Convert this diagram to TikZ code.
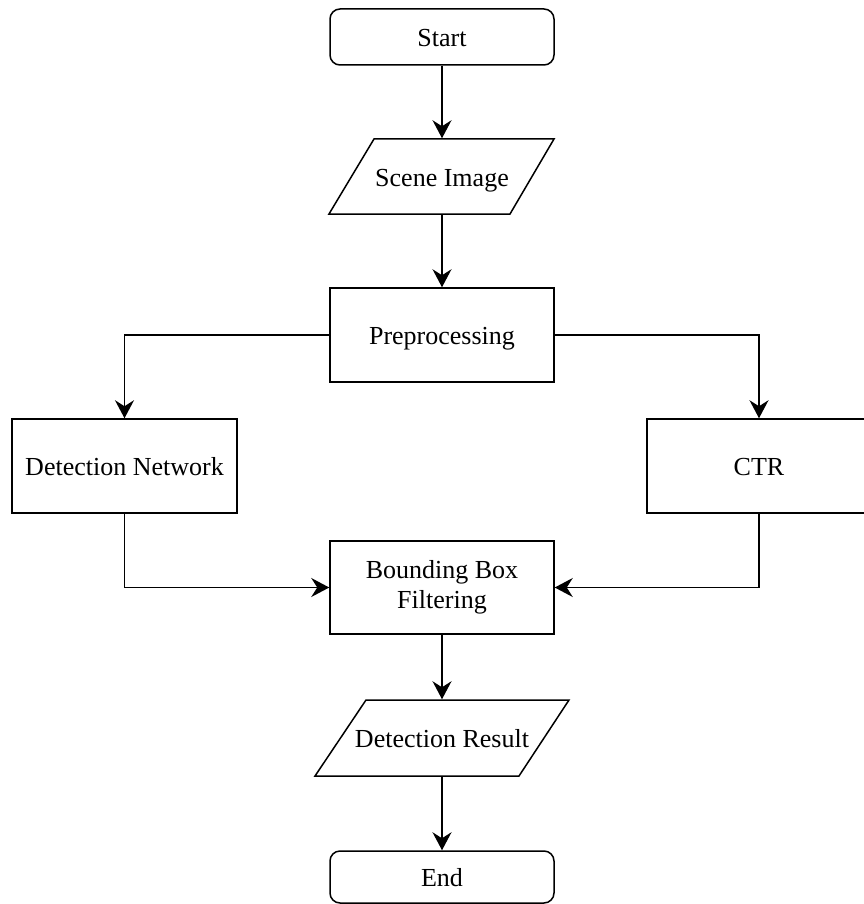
\documentclass[tikz,border=0pt]{standalone}
\usepackage{fontspec}
\setmainfont{Liberation Serif}
\usetikzlibrary{arrows.meta,calc}
\begin{document}
\begin{tikzpicture}[x=1pt,y=-1pt,line width=1.5pt,
  lbl/.style={font=\fontsize{26}{30}\selectfont, align=center, inner sep=0pt},
  fixline/.style={text height=19pt, text depth=0pt},
  procbox/.style={lbl, draw, minimum width=224pt, minimum height=94pt},
  termbox/.style={lbl, fixline, draw, rounded corners=10pt, minimum width=224pt, minimum height=56pt},
  iobox/.style={lbl, fixline, minimum height=75pt, minimum width=160pt},
  arr/.style={-{Stealth[length=18pt,width=19pt,inset=6pt]}}]
\useasboundingbox (0,0) rectangle (863,904);
\node[termbox] (start) at (442,37) {Start};
\node[iobox] (scene) at (442,176.5) {Scene Image};
\draw ($(scene.center)+(-113,37.5)$) -- ($(scene.center)+(-68,-37.5)$) -- ($(scene.center)+(112,-37.5)$) -- ($(scene.center)+(68,37.5)$) -- cycle;
\node[procbox, fixline] (prep) at (442,335) {Preprocessing};
\node[procbox, fixline, minimum width=225pt] (dn) at (124.5,466) {Detection Network};
\node[procbox, fixline] (ctr) at (759,466) {CTR};
\node[procbox, minimum height=93pt] (bb) at (442,587.5) {Bounding Box\\Filtering};
\node[iobox, minimum height=76pt] (dr) at (442,738) {Detection Result};
\draw ($(dr.center)+(-127,38)$) -- ($(dr.center)+(-76,-38)$) -- ($(dr.center)+(127,-38)$) -- ($(dr.center)+(77,38)$) -- cycle;
\node[termbox, minimum height=52pt] (end) at (442,877) {End};
\draw[arr] (start) -- (scene);
\draw[arr] (scene) -- (prep);
\draw[arr] (prep.west) -| (dn.north);
\draw[arr] (prep.east) -| (ctr.north);
\draw[arr] (dn.south) |- (bb.west);
\draw[arr] (ctr.south) |- (bb.east);
\draw[arr] (bb) -- (dr);
\draw[arr] (dr) -- (end);
\end{tikzpicture}
\end{document}
